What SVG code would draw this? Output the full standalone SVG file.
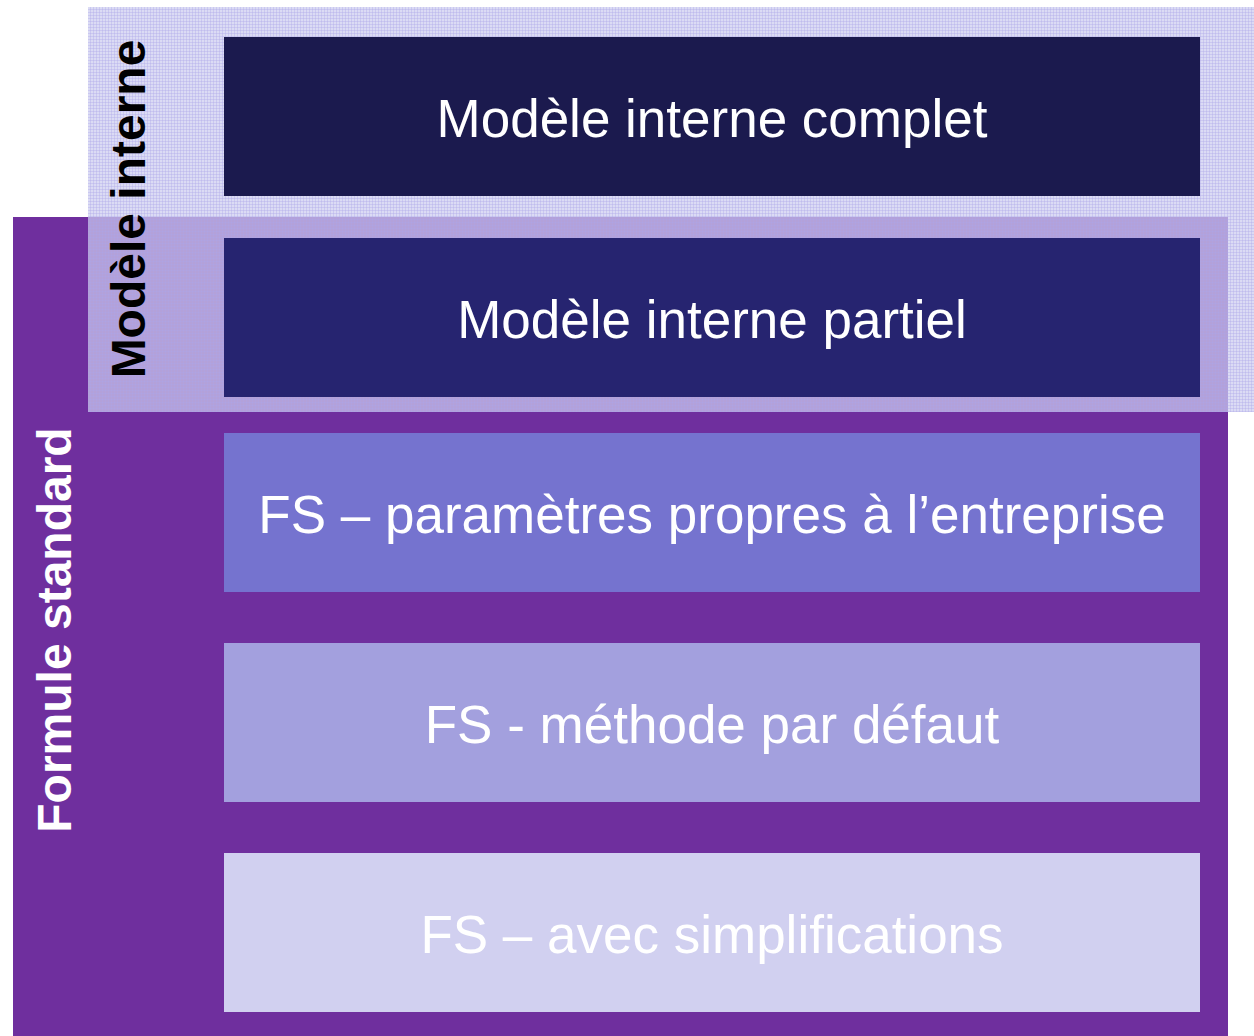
<svg xmlns="http://www.w3.org/2000/svg" width="1254" height="1036" viewBox="0 0 1254 1036">
  <style>
    .lbl { font-family: "Liberation Sans", Arial, sans-serif; font-size: 53px; fill: #ffffff; text-anchor: middle; }
    .side { font-family: "Liberation Sans", Arial, sans-serif; font-size: 48px; font-weight: bold; text-anchor: middle; }
  </style>
  <defs>
    <pattern id="grid" width="6" height="6" patternUnits="userSpaceOnUse">
      <rect width="6" height="6" fill="rgb(206,206,240)" fill-opacity="0.72"/>
      <path d="M0 0.5H6M0.5 0V6M0 3.5H6M3.5 0V6" stroke="rgb(170,165,230)" stroke-width="1" stroke-opacity="0.35" fill="none"/>
    </pattern>
  </defs>
  <rect width="1254" height="1036" fill="#ffffff"/>
  <g id="formule-standard">
    <rect x="13" y="217" width="1215" height="819" fill="#6F2F9E"/>
  </g>
  <g id="modele-interne">
    <rect x="88" y="7" width="1166" height="405" fill="url(#grid)"/>
  </g>
  <g id="connectors"></g>
  <g id="n1">
    <rect x="224" y="37" width="976" height="159" fill="#1B1A4E"/>
    <text class="lbl" x="712" y="137">Modèle interne complet</text>
  </g>
  <g id="n2">
    <rect x="224" y="238" width="976" height="159" fill="#262470"/>
    <text class="lbl" x="712" y="338">Modèle interne partiel</text>
  </g>
  <g id="n3">
    <rect x="224" y="433" width="976" height="159" fill="#7573CF"/>
    <text class="lbl" x="712" y="533">FS – paramètres propres à l’entreprise</text>
  </g>
  <g id="n4">
    <rect x="224" y="643" width="976" height="159" fill="#A3A0DE"/>
    <text class="lbl" x="712" y="743">FS - méthode par défaut</text>
  </g>
  <g id="n5">
    <rect x="224" y="853" width="976" height="159" fill="#D1D0F0"/>
    <text class="lbl" x="712" y="953">FS – avec simplifications</text>
  </g>
  <g id="side-labels">
    <text class="side" fill="#000000" transform="translate(145,209) rotate(-90)">Modèle interne</text>
    <text class="side" fill="#ffffff" transform="translate(71,630) rotate(-90)">Formule standard</text>
  </g>
</svg>
